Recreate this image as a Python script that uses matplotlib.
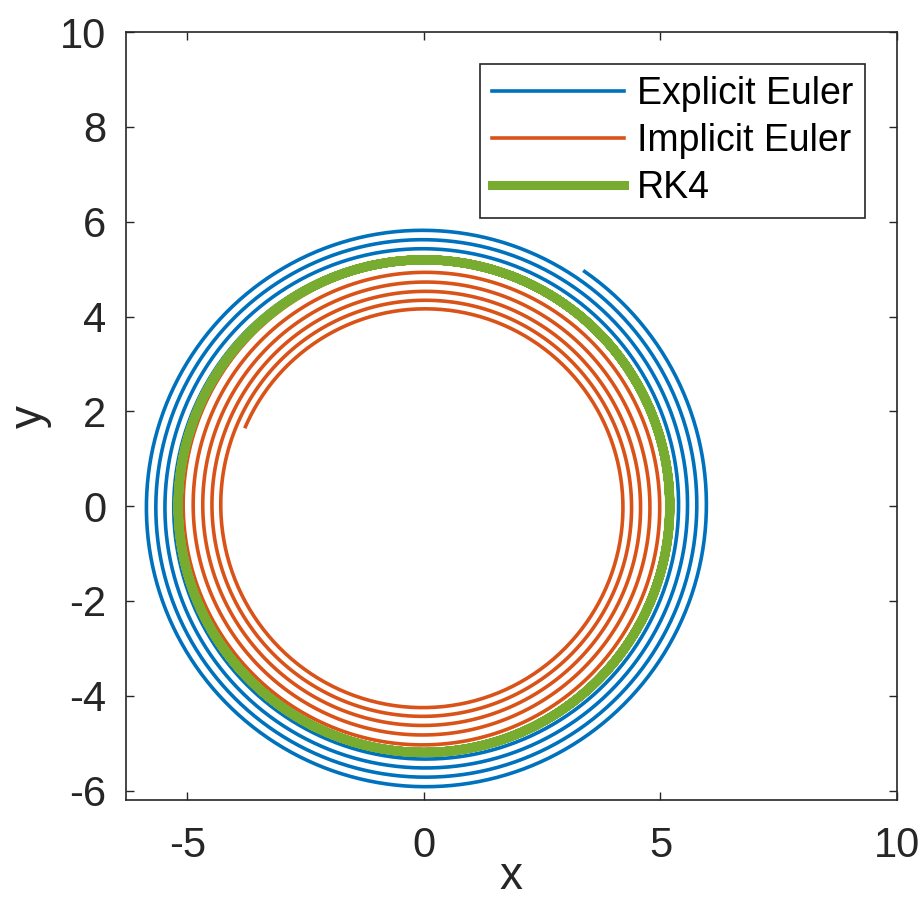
import numpy as np
import matplotlib
matplotlib.use("Agg")
import matplotlib.pyplot as plt

# oscillator x' = -y, y' = x, every method starts at the same point
x_start = 5.2
y_start = 0.0

h_explicit = 0.011
n_explicit = 2373
h_implicit = 0.0135
n_implicit = 2529
h_rk4 = 0.1
n_rk4 = 400

labels = ["Explicit Euler", "Implicit Euler", "RK4"]
colors = ["#0072BD", "#D95319", "#77AC30"]
xticks = [-5, 0, 5, 10]
yticks = [-6, -4, -2, 0, 2, 4, 6, 8, 10]

A = np.array([[0.0, -1.0], [1.0, 0.0]])


def f(u):
    return A @ u


def explicit_euler(u0, h, n):
    u = np.zeros((n + 1, 2))
    u[0] = u0
    for k in range(n):
        u[k + 1] = u[k] + h * f(u[k])
    return u


def implicit_euler(u0, h, n):
    u = np.zeros((n + 1, 2))
    u[0] = u0
    M = np.eye(2) - h * A
    for k in range(n):
        u[k + 1] = np.linalg.solve(M, u[k])
    return u


def rk4(u0, h, n):
    u = np.zeros((n + 1, 2))
    u[0] = u0
    for k in range(n):
        k1 = f(u[k])
        k2 = f(u[k] + h / 2 * k1)
        k3 = f(u[k] + h / 2 * k2)
        k4 = f(u[k] + h * k3)
        u[k + 1] = u[k] + h / 6 * (k1 + 2 * k2 + 2 * k3 + k4)
    return u


u0 = np.array([x_start, y_start])
sols = [explicit_euler(u0, h_explicit, n_explicit),
        implicit_euler(u0, h_implicit, n_implicit),
        rk4(u0, h_rk4, n_rk4)]
widths = [2.6, 2.6, 6.5]

plt.rcParams['font.family'] = ['Liberation Sans', 'DejaVu Sans']
plt.rcParams['axes.unicode_minus'] = False

fig = plt.figure(figsize=(9.23, 9.17), dpi=100)
ax = fig.add_axes([0.1365, 0.1276, 0.8353, 0.8374])

for s, lab, c, w in zip(sols, labels, colors, widths):
    ax.plot(s[:, 0], s[:, 1], color=c, linewidth=w, label=lab)

ax.set_xlim(-6.3, 10)
ax.set_ylim(-6.2, 10)
ax.set_xticks(xticks)
ax.set_yticks(yticks)
ax.tick_params(direction='in', length=6, width=1, colors='#262626',
               labelsize=30, top=True, right=True)
ax.tick_params(axis='x', pad=19)
ax.tick_params(axis='y', pad=14)
for sp in ax.spines.values():
    sp.set_color('#262626')
    sp.set_linewidth(1.2)
ax.set_xlabel("x", fontsize=33, color='#262626', labelpad=-8)
ax.set_ylabel("y", fontsize=33, color='#262626', labelpad=6)

leg = ax.legend(loc='upper right', fontsize=27, handlelength=3.5,
                fancybox=False, framealpha=1, edgecolor='#262626',
                borderaxespad=0.85, labelspacing=0.3, handletextpad=0.35,
                borderpad=0.32)
leg.get_frame().set_linewidth(1.2)

fig.savefig("out.png", dpi=100)
